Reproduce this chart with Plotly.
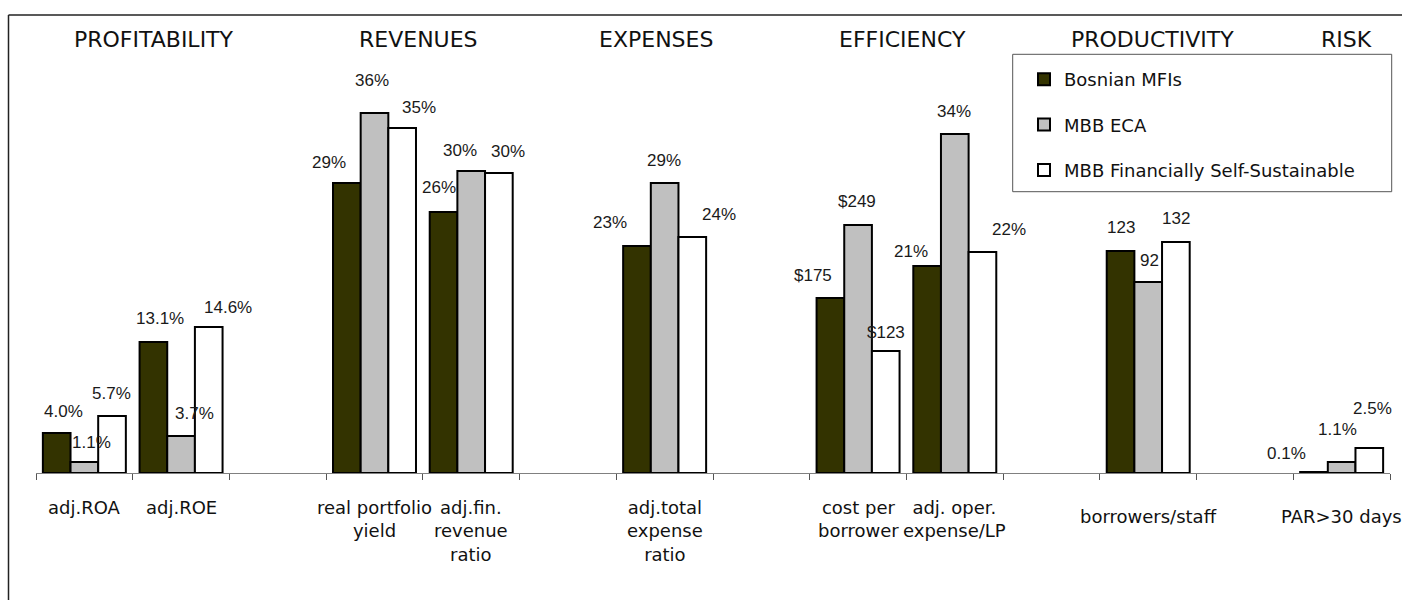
import plotly.graph_objects as go

# ---------------- data ----------------
slots = ["adj.ROA", "adj.ROE", "_gap1", "real portfolio yield", "adj.fin. revenue ratio", "_gap2",
         "adj.total expense ratio", "_gap3", "cost per borrower", "adj. oper. expense/LP", "_gap4",
         "borrowers/staff", "_gap5", "PAR>30 days"]
metrics = ["adj.ROA", "adj.ROE", "real portfolio yield", "adj.fin. revenue ratio",
           "adj.total expense ratio", "cost per borrower", "adj. oper. expense/LP",
           "borrowers/staff", "PAR>30 days"]
metric_text = ["adj.ROA", "adj.ROE", "real portfolio<br>yield", "adj.fin.<br>revenue<br>ratio",
               "adj.total<br>expense<br>ratio", "cost per<br>borrower", "adj. oper.<br>expense/LP",
               "borrowers/staff", "PAR>30 days"]
series_names = ["Bosnian MFIs", "MBB ECA", "MBB Financially Self-Sustainable"]

# bar heights as drawn (chart units)
bosnian_heights = [4.0, 13.1, 29.0, 26.1, 22.7, 17.5, 20.7, 22.2, 0.1]
eca_heights = [1.1, 3.7, 36.0, 30.2, 29.0, 24.8, 33.9, 19.1, 1.1]
fss_heights = [5.7, 14.6, 34.5, 30.0, 23.6, 12.2, 22.1, 23.1, 2.5]

# data labels
bosnian_labels = ["4.0%", "13.1%", "29%", "26%", "23%", "$175", "21%", "123", "0.1%"]
eca_labels = ["1.1%", "3.7%", "36%", "30%", "29%", "$249", "34%", "92", "1.1%"]
fss_labels = ["5.7%", "14.6%", "35%", "30%", "24%", "$123", "22%", "132", "2.5%"]

group_titles = ["PROFITABILITY", "REVENUES", "EXPENSES", "EFFICIENCY", "PRODUCTIVITY", "RISK"]

# ---------------- layout / style ----------------
W, H = 1402, 600
PL, PR, PT, PB = 36, 1390, 23, 473  # plot area in px
BARGAP = 0.142


def px_x(px):
    return (px - PL) / (PR - PL)


def px_y(py):
    return (PB - py) / (PB - PT)


colors = ["#333300", "#C0C0C0", "#FFFFFF"]
heights = [bosnian_heights, eca_heights, fss_heights]
labels = [bosnian_labels, eca_labels, fss_labels]

# label nudges (px): (dx from bar centre, dy of label centre above bar top)
nudges = [
    [(7, 22), (7, 24), (-18, 21), (-5, 25), (-27, 24), (-17, 23), (-16, 15), (0, 24), (-27, 19)],
    [(7, 20), (13, 23), (-3, 33), (-11, 21), (-1, 23), (-1, 24), (-1, 23), (1, 22), (-4, 33)],
    [(-1, 23), (19, 20), (17, 21), (9, 22), (27, 23), (0, 19), (27, 23), (0, 24), (3, 40)],
]

fig = go.Figure()
for i in range(3):
    fig.add_trace(go.Bar(
        x=metrics, y=heights[i], name=series_names[i], legendgroup=f"g{i}",
        marker=dict(color=colors[i], line=dict(color="#000000", width=2)),
        hoverinfo="skip",
    ))

annotations = []
bw = (1 - BARGAP) / 3
for i in range(3):
    for j, m in enumerate(metrics):
        idx = slots.index(m)
        dx, dy = nudges[i][j]
        annotations.append(dict(
            x=idx + (i - 1) * bw, y=heights[i][j], xref="x", yref="y",
            text=labels[i][j], showarrow=False, xanchor="center", yanchor="middle",
            xshift=dx, yshift=dy,
            font=dict(family="Liberation Sans, Arial", size=17, color="#1a1a1a"),
        ))

# category labels under axis
for j, m in enumerate(metrics):
    top = 504 if m in ("borrowers/staff", "PAR>30 days") else 495
    annotations.append(dict(
        x=m, y=px_y(top), xref="x", yref="paper", text=metric_text[j], showarrow=False,
        xanchor="center", yanchor="top", align="center",
        font=dict(family="DejaVu Sans", size=18, color="#111111"),
    ))

# group headers
header_x = [154, 418, 656, 902, 1152, 1346]
for t, hx in zip(group_titles, header_x):
    annotations.append(dict(
        x=px_x(hx), y=px_y(39), xref="paper", yref="paper", text=t, showarrow=False,
        xanchor="center", yanchor="middle",
        font=dict(family="DejaVu Sans", size=22, color="#111111"),
    ))

shapes = [
    # outer frame (top and left edges visible)
    dict(type="line", xref="paper", yref="paper", x0=px_x(8.5), x1=px_x(1410), y0=px_y(15), y1=px_y(15),
         line=dict(color="#222222", width=1.5)),
    dict(type="line", xref="paper", yref="paper", x0=px_x(8.5), x1=px_x(8.5), y0=px_y(15), y1=px_y(620),
         line=dict(color="#222222", width=1.5)),
    # legend box
    dict(type="rect", xref="paper", yref="paper", x0=px_x(1012.7), x1=px_x(1391.7), y0=px_y(54.3),
         y1=px_y(191.7), line=dict(color="#555555", width=1), fillcolor="rgba(0,0,0,0)"),
]

fig.update_layout(
    width=W, height=H,
    margin=dict(l=PL, r=W - PR, t=PT, b=H - PB),
    paper_bgcolor="white", plot_bgcolor="white",
    barmode="group", bargap=BARGAP, bargroupgap=0,
    showlegend=True,
    legend=dict(x=px_x(1024), y=px_y(61), xanchor="left", yanchor="top",
                font=dict(family="DejaVu Sans", size=18, color="#111111"),
                bgcolor="rgba(0,0,0,0)", borderwidth=0, tracegroupgap=19,
                traceorder="grouped"),
    xaxis=dict(type="category", categoryarray=slots, categoryorder="array", range=[-0.5, 13.5],
               showticklabels=False, ticks="outside", tickson="boundaries", ticklen=6,
               tickcolor="#555555", tickwidth=1, showline=True, linecolor="#808080", linewidth=1,
               showgrid=False, zeroline=False, fixedrange=True),
    yaxis=dict(range=[0, 45], visible=False, fixedrange=True),
    annotations=annotations,
    shapes=shapes,
    hovermode=False,
)

fig.write_html("out.html")
